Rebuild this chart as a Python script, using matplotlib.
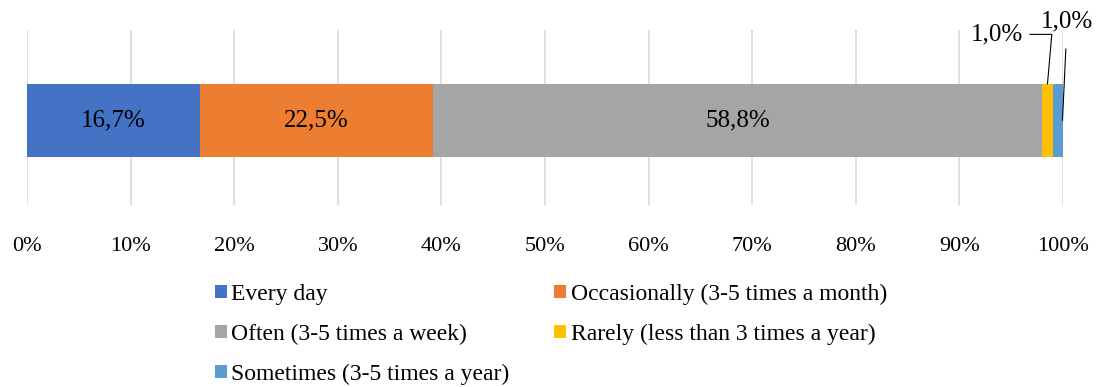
import matplotlib.pyplot as plt
import numpy as np

plt.rcParams['font.family'] = ['Liberation Serif', 'DejaVu Serif']

categories = ['Every day', 'Occasionally (3-5 times a month)', 'Often (3-5 times a week)',
              'Rarely (less than 3 times a year)', 'Sometimes (3-5 times a year)']
values = [16.7, 22.5, 58.8, 1.0, 1.0]
labels = ['16,7%', '22,5%', '58,8%', '1,0%', '1,0%']
colors = ['#4472C4', '#ED7D31', '#A5A5A5', '#FFC000', '#5B9BD5']
xticks = np.arange(0, 101, 10)
xticklabels = ['%d%%' % t for t in xticks]

fig = plt.figure(figsize=(10.99, 3.87), dpi=100)
ax = fig.add_axes([27 / 1099, 1 - 205 / 387, 1036 / 1099, 175 / 387])

bar_y = 0.4825
bar_h = 0.417
left = 0.0
handles = {}
centers = []
for cat, v, lab, c in zip(categories, values, labels, colors):
    b = ax.barh(bar_y, v, left=left, height=bar_h, color=c, label=cat, zorder=3)
    handles[cat] = b
    centers.append(left + v / 2)
    left += v

# labels inside the three big segments
for i in range(3):
    ax.text(centers[i], bar_y, labels[i], ha='center', va='center', fontsize=18, zorder=4)

# callouts for the two thin segments
ax.annotate(labels[3], xy=(centers[3], bar_y + bar_h / 2), xytext=(93.6, 0.975),
            ha='center', va='center', fontsize=18, annotation_clip=False,
            arrowprops=dict(arrowstyle='-', color='black', lw=0.8, shrinkA=3, shrinkB=0,
                            connectionstyle='angle,angleA=0,angleB=85,rad=0'))
ax.annotate(labels[4], xy=(centers[4] + 0.45, bar_y), xytext=(100.4, 1.05),
            ha='center', va='center', fontsize=18, annotation_clip=False,
            arrowprops=dict(arrowstyle='-', color='black', lw=0.8, shrinkA=10, shrinkB=0))

ax.set_xlim(0, 100)
ax.set_ylim(0, 1)
ax.set_xticks(xticks)
ax.set_xticklabels(xticklabels, fontsize=16)
ax.set_yticks([])
ax.tick_params(axis='x', length=0, pad=23)
ax.grid(axis='x', color='#d9d9d9', linewidth=1.2, zorder=0)
for s in ax.spines.values():
    s.set_visible(False)

# legend filled column-wise, so reorder to read row by row like the original
order = ['Every day', 'Often (3-5 times a week)', 'Sometimes (3-5 times a year)',
         'Occasionally (3-5 times a month)', 'Rarely (less than 3 times a year)']
fig.legend([handles[k] for k in order], order, ncol=2, loc='upper left',
           bbox_to_anchor=(203 / 1099, 1 - 272 / 387), frameon=False, fontsize=17,
           handlelength=0.5, handleheight=0.5, handletextpad=0.2,
           columnspacing=1.9, labelspacing=0.8, borderpad=0)

fig.savefig('out.png', dpi=100)
